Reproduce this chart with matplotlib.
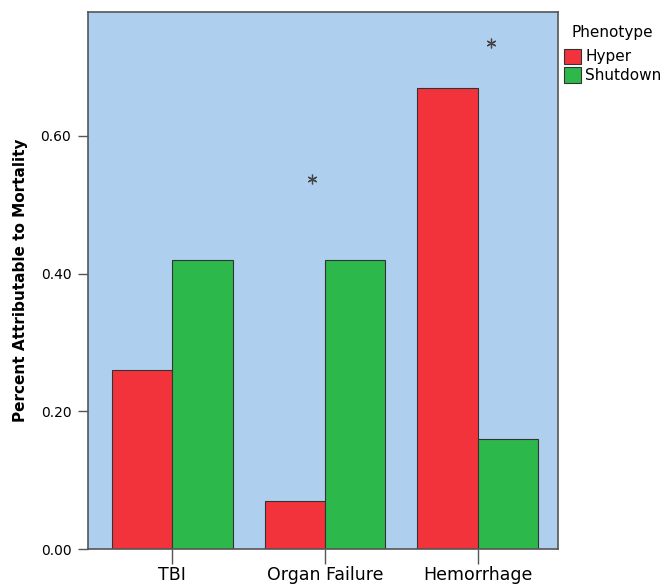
import numpy as np
import matplotlib.pyplot as plt

categories = ['TBI', 'Organ Failure', 'Hemorrhage']
phenotypes = ['Hyper', 'Shutdown']
hyper = [0.26, 0.07, 0.67]
shutdown = [0.42, 0.42, 0.16]
star_x = [0.915, 2.09]
star_y = [0.537, 0.735]
yticks = [0.0, 0.2, 0.4, 0.6]

red = '#f2333b'
green = '#2db84b'
bg = '#aecfee'

fig = plt.figure(figsize=(6.72, 5.87), dpi=100)
ax = fig.add_axes([0.131, 0.0647, 0.699, 0.915])
ax.set_facecolor(bg)

x = np.arange(len(categories))
w = 0.395
ax.bar(x - w/2, hyper, w, color=red, edgecolor='#333333', linewidth=0.8, label=phenotypes[0])
ax.bar(x + w/2, shutdown, w, color=green, edgecolor='#333333', linewidth=0.8, label=phenotypes[1])

# significance markers
ax.plot(star_x, star_y, ls='', marker=(6, 2, 0), color='#444444',
        markersize=7, markeredgewidth=0.9)

ax.set_xlim(-0.553, 2.526)
ax.set_ylim(0, 0.78)
ax.set_yticks(yticks)
ax.set_yticklabels([f'{v:.2f}' for v in yticks], fontsize=10)
ax.set_xticks(x)
ax.set_xticklabels(categories, fontsize=12.5)
ax.tick_params(axis='x', length=11, width=1, color='#555555', pad=1.5)
ax.tick_params(axis='y', length=7, width=1, color='#555555', pad=5)
for s in ax.spines.values():
    s.set_color('#555555')
    s.set_linewidth(1.2)

ax.set_ylabel('Percent Attributable to Mortality', fontsize=11, fontweight='bold', labelpad=9)

leg = ax.legend(title='Phenotype', loc='upper left', bbox_to_anchor=(0.99, 0.995),
                frameon=False, fontsize=11, title_fontsize=11, handlelength=1.15,
                handleheight=1.15, handletextpad=0.25, labelspacing=0.2, borderaxespad=0.3)
leg._legend_box.sep = 6

fig.savefig('out.png', dpi=100)
